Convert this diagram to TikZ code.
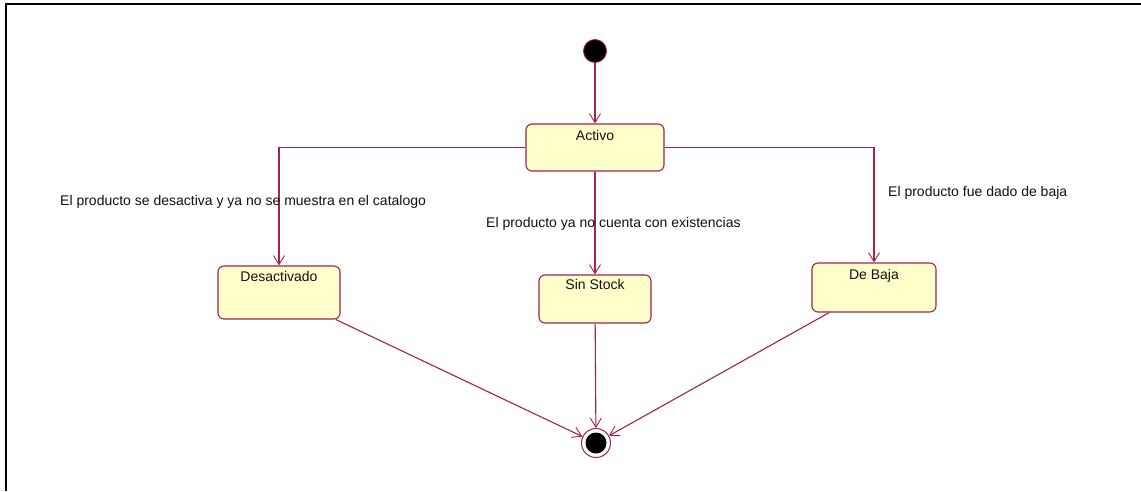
\documentclass[tikz,border=0pt]{standalone}
\usepackage{fontspec}
\setmainfont{Liberation Sans}
\usetikzlibrary{arrows.meta}
\definecolor{crim}{HTML}{A3224F}
\definecolor{stfill}{HTML}{FFFFCC}
\definecolor{txt}{HTML}{111111}
\tikzset{
  statebox/.style={draw=crim, fill=stfill, rounded corners=6pt, line width=1.1pt, inner sep=0pt},
  conn/.style={draw=crim, line width=1.1pt, -{Straight Barb[length=9pt,width=11pt,line width=0.9pt]}},
  lbl/.style={font=\fontsize{14}{16}\selectfont, text=txt, inner sep=0pt},
}
\begin{document}
\begin{tikzpicture}[x=1pt,y=-1pt]
\useasboundingbox (0,0) rectangle (1141,491);
\fill[white] (0,0) rectangle (1141,491);
\draw[black, line width=2pt] (6,491) -- (6,3.5) -- (1141,3.5);

% initial
\node[circle, draw=crim, fill=black, minimum size=23pt, inner sep=0pt, line width=0.9pt] (init) at (595,51) {};

% states
\node[statebox, minimum width=138pt, minimum height=47pt] (activo) at (595,147.5) {};
\node[lbl, anchor=north] (activolbl) at (595,130.5) {Activo};
\node[statebox, minimum width=122pt, minimum height=53pt] (desact) at (279,292.5) {};
\node[lbl, anchor=north] (desactlbl) at (279,271.5) {Desactivado};
\node[statebox, minimum width=112pt, minimum height=48pt] (sinstock) at (595,299) {};
\node[lbl, anchor=north] (sinstocklbl) at (595,279.5) {Sin Stock};
\node[statebox, minimum width=124pt, minimum height=49pt] (debaja) at (874,287.5) {};
\node[lbl, anchor=north] (debajalbl) at (874,269.5) {De Baja};

% final
\node[circle, draw=crim, fill=white, minimum size=29pt, inner sep=0pt, line width=1pt] (final) at (596,443) {};
\fill[black] (final.center) circle (10.5pt);

% transitions
\draw[conn] (init) -- (activo);
\draw[conn] (activo.west) -| (desact.north);
\draw[conn] (activo) -- (sinstock);
\draw[conn] (activo.east) -| (debaja.north);
\draw[conn] (desact) -- (final);
\draw[conn] (sinstock) -- (final);
\draw[conn] (debaja) -- (final);

% labels
\node[lbl, anchor=west] (l1) at (60,202) {El producto se desactiva y ya no se muestra en el catalogo};
\node[lbl, anchor=west] (l2) at (486,224) {El producto ya no cuenta con existencias};
\node[lbl, anchor=west] (l3) at (888,193) {El producto fue dado de baja};
\end{tikzpicture}
\end{document}
